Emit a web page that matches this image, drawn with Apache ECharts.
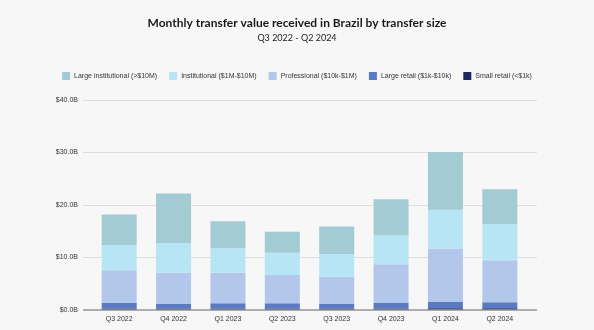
<!DOCTYPE html>
<html>
<head>
<meta charset="utf-8">
<script src="https://cdn.jsdelivr.net/npm/echarts@6/dist/echarts.min.js"></script>
<style>
  html, body { margin: 0; padding: 0; background: #f7f7f7; }
  #chart { width: 594px; height: 330px; }
</style>
</head>
<body>
<div id="chart"></div>
<script>
// Quarterly totals by transfer-size bucket, in billions of USD
const quarters = ['Q3 2022', 'Q4 2022', 'Q1 2023', 'Q2 2023', 'Q3 2023', 'Q4 2023', 'Q1 2024', 'Q2 2024'];
const smallRetail        = [0.3, 0.3, 0.3, 0.3, 0.3, 0.3, 0.35, 0.35];
const largeRetail        = [1.1, 0.85, 0.97, 0.97, 0.84, 1.03, 1.17, 1.11];
const professional       = [6.15, 5.95, 5.83, 5.4, 5.21, 7.37, 10.18, 8.04];
const institutional      = [4.85, 5.65, 4.65, 4.23, 4.32, 5.5, 7.4, 6.9];
const largeInstitutional = [5.8, 9.45, 5.15, 4.0, 5.23, 6.9, 11.0, 6.6];
const yTicks = [0, 10, 20, 30, 40];

const seriesDefs = [
  { name: 'Small retail (<$1k)', data: smallRetail, color: '#1b2a5e' },
  { name: 'Large retail ($1k-$10k)', data: largeRetail, color: '#5a7bc4' },
  { name: 'Professional ($10k-$1M)', data: professional, color: '#b2c7ea' },
  { name: 'Institutional ($1M-$10M)', data: institutional, color: '#b7e5f6' },
  { name: 'Large institutional (>$10M)', data: largeInstitutional, color: '#a2cbd3' }
];

const chart = echarts.init(document.getElementById('chart'), null, { renderer: 'canvas' });

const axisFont = 'Liberation Sans, Arial, sans-serif';
const yMin = yTicks[0], yMax = yTicks[yTicks.length - 1];

chart.setOption({
  backgroundColor: '#f7f7f7',
  animation: false,
  title: {
    text: 'Monthly transfer value received in Brazil by transfer size',
    subtext: 'Q3 2022 - Q2 2024',
    left: 'center',
    top: 12,
    itemGap: 5,
    textStyle: { fontFamily: 'Lato, sans-serif', fontWeight: 'bold', fontSize: 12, color: '#1a1a1a' },
    subtextStyle: { fontFamily: 'Lato, sans-serif', fontSize: 9, color: '#222' }
  },
  legend: {
    top: 67,
    left: 'center',
    itemWidth: 8,
    itemHeight: 8,
    itemGap: 12,
    icon: 'rect',
    data: seriesDefs.slice().reverse().map(s => s.name),
    textStyle: { fontFamily: axisFont, fontSize: 7, color: '#333', padding: [0, 0, 0, -1] }
  },
  grid: [
    // wide grid carrying the horizontal guide lines
    { left: 83, right: 57, top: 100, bottom: 20 },
    // bar area
    { left: 92, right: 67, top: 100, bottom: 20 }
  ],
  xAxis: [
    { gridIndex: 0, type: 'category', data: quarters, show: false },
    {
      gridIndex: 1, type: 'category', data: quarters,
      axisLine: { show: false },
      axisTick: { show: false },
      axisLabel: { fontFamily: axisFont, fontSize: 7, color: '#333', margin: 6 }
    }
  ],
  yAxis: [
    {
      gridIndex: 0, type: 'value', min: yMin, max: yMax, interval: 10,
      axisLine: { show: false },
      axisTick: { show: false },
      axisLabel: {
        fontFamily: axisFont, fontSize: 7, color: '#333', margin: 5,
        formatter: v => '$' + v.toFixed(1) + 'B'
      },
      splitLine: { show: true, lineStyle: { color: '#dedede', width: 1 } }
    },
    {
      gridIndex: 1, type: 'value', min: yMin, max: yMax, interval: 10,
      axisLine: { show: false }, axisTick: { show: false },
      axisLabel: { show: false }, splitLine: { show: false }
    }
  ],
  series: seriesDefs.map(s => ({
    name: s.name,
    type: 'bar',
    stack: 'total',
    xAxisIndex: 1,
    yAxisIndex: 1,
    barWidth: 35,
    data: s.data,
    itemStyle: { color: s.color }
  })).concat([{
    // darker baseline at zero
    type: 'line',
    xAxisIndex: 0,
    yAxisIndex: 0,
    data: [],
    markLine: {
      silent: true,
      symbol: 'none',
      label: { show: false },
      lineStyle: { color: '#9a9a9a', width: 1.5, type: 'solid' },
      data: [{ yAxis: 0 }]
    }
  }])
});
</script>
</body>
</html>
